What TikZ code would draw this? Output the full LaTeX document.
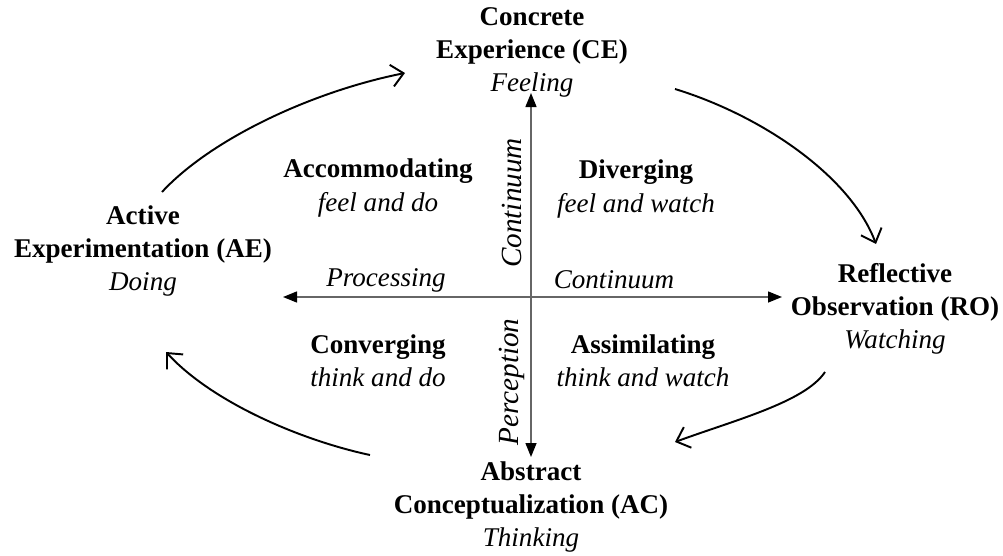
\documentclass[tikz,border=0pt]{standalone}
\usepackage{fontspec}
\setmainfont{Liberation Serif}
\usetikzlibrary{arrows.meta}
\tikzset{
	stage/.style={align=center, inner sep=0pt, font=\fontsize{15.4}{18.8}\selectfont},
	lbl/.style={inner sep=0pt, font=\fontsize{15.4}{18.8}\selectfont\itshape},
	axis/.style={draw=black!60, line width=0.8pt, >={Triangle[length=2.8mm,width=2.2mm,color=black]}, <->},
	cyc/.style={line width=1.1pt, ->, >={Straight Barb[length=2.4mm,width=4.4mm]}}
}
\begin{document}
\begin{tikzpicture}[x=0.02cm, y=-0.02cm]
			\useasboundingbox (0,0) rectangle (1003,555);
			% four stages
			\node (CE) [stage] at (532,52) {\textbf{Concrete}\\\textbf{Experience (CE)}\\\textit{Feeling}};
			\node (AE) [stage] at (143,251) {\textbf{Active}\\\textbf{Experimentation (AE)}\\\textit{Doing}};
			\node (RO) [stage] at (895,309) {\textbf{Reflective}\\\textbf{Observation (RO)}\\\textit{Watching}};
			\node (AC) [stage] at (531,507) {\textbf{Abstract}\\\textbf{Conceptualization (AC)}\\\textit{Thinking}};
			% learning styles
			\foreach \x/\y/\n/\hd/\tx in {378/188/acc/Accommodating/feel and do,636/189/div/Diverging/feel and watch,378/361/con/Converging/think and do,643/361/ass/Assimilating/think and watch}{
					\node (\n) [stage] at (\x,\y) {\textbf{\hd}\\\textit{\tx}};
				}
			% axes
			\coordinate (top) at (531,93);
			\coordinate (bot) at (531,457);
			\coordinate (left) at (283,297);
			\coordinate (right) at (782,297);
			\draw [axis] (bot) -- (top);
			\draw [axis] (left) -- (right);
			\node (proc) [lbl] at (386,280) {Processing};
			\node (cont) [lbl] at (614,280) {Continuum};
			\node (vcont) [lbl, rotate=90, scale=1.08] at (512,203) {Continuum};
			\node (perc) [lbl, rotate=90, scale=1.08] at (512,382) {Perception};
			% cycle
			\coordinate (a1) at (162,192);
			\coordinate (a2) at (405,73);
			\coordinate (b1) at (675,89);
			\coordinate (b2) at (876,244);
			\coordinate (c1) at (825,372);
			\coordinate (c2) at (675,442);
			\coordinate (d1) at (370,455);
			\coordinate (d2) at (166,352);
			\draw [cyc] (a1) .. controls (210,140) and (310,92) .. (a2);
			\draw [cyc] (b1) .. controls (760,115) and (850,175) .. (b2);
			\draw [cyc] (c1) .. controls (805,402) and (735,420) .. (c2);
			\draw [cyc] (d1) .. controls (300,440) and (212,402) .. (d2);
		\end{tikzpicture}
\end{document}
